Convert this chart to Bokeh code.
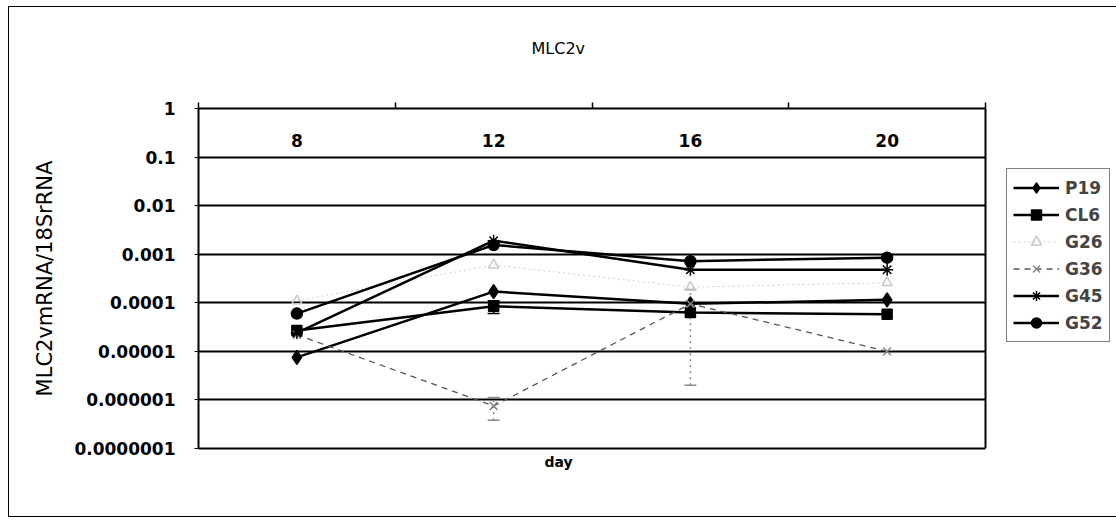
from bokeh.plotting import figure
from bokeh.models import (Range1d, FixedTicker, LinearAxis, CustomJSTickFormatter,
                          Legend, LegendItem, Title, Span, Whisker, TeeHead,
                          ColumnDataSource)
from bokeh.core.properties import value
from bokeh.embed import file_html
from bokeh.resources import INLINE

# ---------------- data ----------------
days = ["8", "12", "16", "20"]
day_pos = [1, 2, 3, 4]
P19 = [7.5e-6, 1.7e-4, 9.5e-5, 1.15e-4]
CL6 = [2.7e-5, 8.5e-5, 6.3e-5, 5.8e-5]
G26 = [1.1e-4, 6.0e-4, 2.1e-4, 2.6e-4]
G36 = [2.2e-5, 7.5e-7, 9.5e-5, 1.0e-5]
G45 = [2.4e-5, 1.9e-3, 4.8e-4, 4.8e-4]
G52 = [6.0e-5, 1.55e-3, 7.2e-4, 8.5e-4]
# error bars (0 = none visible)
CL6_err = [0, 2.5e-5, 0, 0]
G36_err = [0, 3.7e-7, 9.3e-5, 0]
ytick_values = [1e-7, 1e-6, 1e-5, 1e-4, 1e-3, 1e-2, 1e-1, 1]
ytick_labels = ["0.0000001", "0.000001", "0.00001", "0.0001", "0.001", "0.01", "0.1", "1"]
category_bounds = [0.5, 1.5, 2.5, 3.5, 4.5]
day_label_level = [0.22] * 4

FONT = "DejaVu Sans"

# layout: plot area spans x = 198..985 px; the frame is extended to the canvas
# edge so that the legend (right of the plot area) is not clipped.
W, H = 1116, 522
AREA_L, AREA_R = 198, 985
x_end = 0.5 + 4 * (W - AREA_L) / (AREA_R - AREA_L)

p = figure(width=W, height=H, x_range=Range1d(0.5, x_end), y_range=Range1d(1e-7, 1),
           y_axis_type="log", x_axis_location=None, output_backend="svg",
           toolbar_location=None, min_border_left=AREA_L, min_border_right=0,
           min_border_top=108, min_border_bottom=74,
           background_fill_color="white", border_fill_color=None)

# outer chart border (CSS background behind the transparent canvas border area)
p.styles = {
    "background": ("linear-gradient(#000,#000) 8px 6px / 1px 511px no-repeat, "
                   "linear-gradient(#000,#000) 8px 6px / 1108px 1px no-repeat, "
                   "linear-gradient(#000,#000) 8px 516px / 1108px 1px no-repeat, #fff")
}

p.outline_line_color = None
p.xgrid.visible = False
p.ygrid.ticker = FixedTicker(ticks=ytick_values)
p.ygrid.grid_line_color = "black"
p.ygrid.grid_line_width = 2
p.ygrid.cross_bounds = (0.5, 4.5)

ya = p.yaxis[0]
ya.ticker = FixedTicker(ticks=ytick_values, minor_ticks=[])
ya.formatter = CustomJSTickFormatter(args=dict(vals=ytick_values, labs=ytick_labels), code="""
const i = vals.findIndex(v => Math.abs(Math.log10(v) - Math.log10(tick)) < 1e-6);
return i >= 0 ? labs[i] : "";
""")
ya.major_label_text_font = FONT
ya.major_label_text_font_size = "17px"
ya.major_label_text_font_style = "bold"
ya.major_label_text_color = "black"
ya.major_tick_out = 4
ya.major_tick_in = 0
ya.minor_tick_line_color = None
ya.axis_line_width = 2
ya.major_label_standoff = 19
ya.axis_label = "MLC2vmRNA/18SrRNA"
ya.axis_label_text_font = FONT
ya.axis_label_text_font_size = "21px"
ya.axis_label_text_font_style = "normal"
ya.axis_label_text_color = "black"
ya.axis_label_standoff = 14

blank = CustomJSTickFormatter(code='return ""')
top = LinearAxis(ticker=FixedTicker(ticks=category_bounds, minor_ticks=[]), bounds=(0.5, 4.5),
                 formatter=blank, major_label_standoff=0, major_tick_in=0, major_tick_out=6,
                 minor_tick_line_color=None, axis_line_width=2, major_tick_line_width=1.5)
p.add_layout(top, "above")
bottom = LinearAxis(ticker=FixedTicker(ticks=[], minor_ticks=[]), bounds=(0.5, 4.5),
                    formatter=CustomJSTickFormatter(code='return ""'), major_label_standoff=0,
                    major_tick_in=0, major_tick_out=0, minor_tick_line_color=None,
                    axis_line_width=2)
p.add_layout(bottom, "below")
p.add_layout(Span(location=4.5, dimension="height", line_color="black", line_width=2))

# category labels
p.text(x=day_pos, y=day_label_level, text=days, text_align="center", text_baseline="middle",
       text_font=value(FONT), text_font_size="17px", text_font_style="bold", text_color="black")

# error bars
def errbars(vals, errs, color, dash):
    xs = [x for x, e in zip(day_pos, errs) if e > 0]
    up = [v + e for v, e in zip(vals, errs) if e > 0]
    lo = [v - e for v, e in zip(vals, errs) if e > 0]
    src = ColumnDataSource(dict(x=xs, upper=up, lower=lo))
    p.add_layout(Whisker(base="x", upper="upper", lower="lower", source=src,
                         line_color=color, line_width=1.5, line_dash=dash,
                         upper_head=TeeHead(size=12, line_color=color, line_width=1.5),
                         lower_head=TeeHead(size=12, line_color=color, line_width=1.5)))

errbars(CL6, CL6_err, "black", "solid")
errbars(G36, G36_err, "#888888", "2 4")

items = []
def series(name, vals, marker, size, lc, lw, dash, mfill, mline):
    l = p.line(day_pos, vals, line_color=lc, line_width=lw, line_dash=dash)
    s = p.scatter(day_pos, vals, marker=marker, size=size, fill_color=mfill, line_color=mline,
                  line_width=1.5)
    items.append(LegendItem(label=name, renderers=[l, s]))

series("P19", P19, "diamond", 14, "black", 2.5, "solid", "black", "black")
series("CL6", CL6, "square", 10, "black", 2.5, "solid", "black", "black")
series("G26", G26, "triangle", 10, "#d0d0d0", 1, "2 3", None, "#c8c8c8")
series("G36", G36, "x", 11, "#555555", 1.3, "6 5", None, "#888888")
series("G45", G45, "asterisk", 12, "black", 2.5, "solid", "black", "black")
series("G52", G52, "circle", 11, "black", 2.5, "solid", "black", "black")

legend = Legend(items=items, location=(808, 106), glyph_width=46, glyph_height=25,
                label_height=20, spacing=2, padding=6, margin=0, label_standoff=6,
                border_line_color="black", border_line_width=1.5,
                label_text_font=FONT, label_text_font_size="17px",
                label_text_font_style="bold", background_fill_color="white",
                background_fill_alpha=1)
p.add_layout(legend)

p.title = Title(text="MLC2v\n", align="left", offset=333, vertical_align="top", standoff=48,
                text_font=FONT, text_font_size="16px", text_font_style="normal",
                text_color="black")
p.add_layout(Title(text="day", align="left", offset=346, standoff=10, vertical_align="top",
                   text_font=FONT, text_font_size="14px", text_font_style="bold",
                   text_color="black"), "below")

open("out.html", "w").write(file_html(p, INLINE))
